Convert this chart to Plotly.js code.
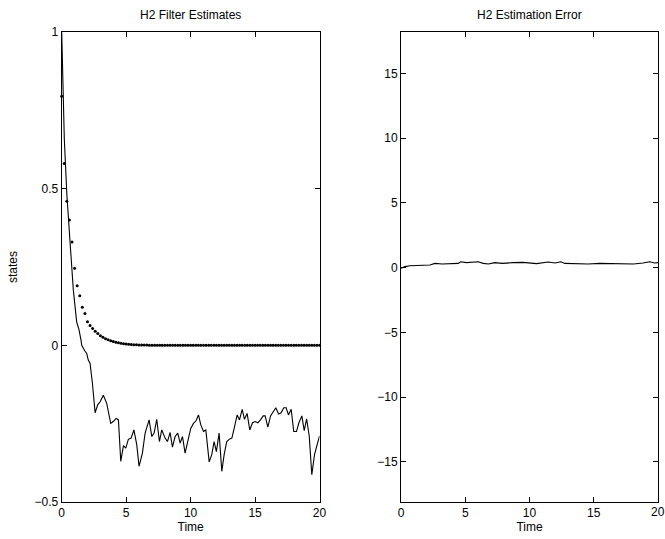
<!DOCTYPE html>
<html>
<head>
<meta charset="utf-8">
<script src="https://cdn.plot.ly/plotly-3.0.1.min.js"></script>
<style>html,body{margin:0;padding:0;background:#fff;}#chart{width:665px;height:539px;}</style>
</head>
<body>
<div id="chart"></div>
<script>
// Dotted series: true state samples (step 0.2)
var dotTime = [0,0.2,0.4,0.6,0.8,1,1.2,1.4,1.6,1.8,2,2.2,2.4,2.6,2.8,3,3.2,3.4,3.6,3.8,4,4.2,4.4,4.6,4.8,5,5.2,5.4,5.6,5.8,6,6.2,6.4,6.6,6.8,7,7.2,7.4,7.6,7.8,8,8.2,8.4,8.6,8.8,9,9.2,9.4,9.6,9.8,10,10.2,10.4,10.6,10.8,11,11.2,11.4,11.6,11.8,12,12.2,12.4,12.6,12.8,13,13.2,13.4,13.6,13.8,14,14.2,14.4,14.6,14.8,15,15.2,15.4,15.6,15.8,16,16.2,16.4,16.6,16.8,17,17.2,17.4,17.6,17.8,18,18.2,18.4,18.6,18.8,19,19.2,19.4,19.6,19.8,20];
var dotState = [0.795,0.58,0.46,0.40,0.33,0.246,0.19,0.158,0.122,0.102,0.075,0.063,0.054,0.045,0.038,0.031,0.026,0.021,0.018,0.015,0.012,0.010,0.008,0.007,0.005,0.004,0.0035,0.003,0.002,0.002,0.0015,0.001,0.001,0.001,0.0005,0,0,0,0,0,0,0,0,0,0,0,0,0,0,0,0,0,0,0,0,0,0,0,0,0,0,0,0,0,0,0,0,0,0,0,0,0,0,0,0,0,0,0,0,0,0,0,0,0,0,0,0,0,0,0,0,0,0,0,0,0,0,0,0,0,0];

// Solid series: H2 filter estimate
var estTime = [0,0.2,0.4,0.52,0.7,0.9,1.16,1.34,1.5,1.55,1.8,1.94,2.06,2.2,2.38,2.59,2.79,2.98,3.23,3.49,3.8,4.0,4.22,4.4,4.58,4.79,4.97,5.17,5.38,5.6,5.82,6.0,6.26,6.47,6.78,6.99,7.17,7.37,7.58,7.76,8.02,8.2,8.41,8.59,8.8,9.0,9.19,9.37,9.57,9.78,10.01,10.22,10.43,10.61,10.79,11.0,11.18,11.44,11.64,11.82,12.0,12.21,12.42,12.6,12.8,12.99,13.2,13.4,13.61,13.79,14.0,14.18,14.38,14.59,14.8,15.0,15.21,15.42,15.63,15.78,15.99,16.2,16.4,16.61,16.82,17.02,17.23,17.41,17.59,17.8,18.0,18.21,18.4,18.63,18.81,19.0,19.2,19.4,19.61,19.82,20.0];
var estState = [1.0,0.66,0.48,0.40,0.28,0.177,0.075,0.05,0.016,0.0,-0.018,-0.026,-0.047,-0.058,-0.12,-0.215,-0.19,-0.18,-0.159,-0.185,-0.249,-0.243,-0.233,-0.238,-0.37,-0.32,-0.328,-0.30,-0.296,-0.27,-0.317,-0.386,-0.344,-0.28,-0.238,-0.291,-0.28,-0.236,-0.307,-0.27,-0.296,-0.307,-0.278,-0.325,-0.291,-0.28,-0.312,-0.291,-0.344,-0.302,-0.265,-0.249,-0.24,-0.222,-0.254,-0.275,-0.27,-0.372,-0.349,-0.307,-0.339,-0.28,-0.402,-0.349,-0.307,-0.30,-0.296,-0.261,-0.222,-0.238,-0.204,-0.236,-0.217,-0.27,-0.247,-0.243,-0.247,-0.238,-0.225,-0.225,-0.261,-0.225,-0.212,-0.199,-0.219,-0.215,-0.199,-0.199,-0.222,-0.204,-0.275,-0.275,-0.247,-0.225,-0.272,-0.235,-0.289,-0.413,-0.349,-0.312,-0.289];

// Right panel: estimation error
var errTime = [0,0.3,0.7,2.25,2.64,3.2,4.46,4.64,5.1,5.5,6.0,6.4,6.8,7.3,7.9,8.7,9.5,10.55,11.45,12.0,12.44,12.75,13.9,14.56,15.47,16.5,17.3,18.1,18.83,19.35,19.74,20];
var errValue = [-0.05,0.08,0.15,0.2,0.33,0.28,0.33,0.46,0.39,0.41,0.46,0.33,0.28,0.39,0.33,0.39,0.41,0.31,0.44,0.36,0.46,0.33,0.31,0.28,0.33,0.31,0.26,0.28,0.36,0.46,0.36,0.39];

var xTicks = [0,5,10,15,20];
var xTicksRightShown = [0,5,10,15];
var yTicksLeft = [-0.5,0,0.5,1];
var yTicksRight = [-15,-10,-5,0,5,10,15];

var FONT = 'Liberation Sans, Arial, Helvetica, sans-serif';

var traces = [
  {x: estTime, y: estState, type: 'scatter', mode: 'lines', line: {color: '#000', width: 1.1}, xaxis: 'x', yaxis: 'y', hoverinfo: 'none'},
  {x: dotTime, y: dotState, type: 'scatter', mode: 'markers', marker: {color: '#000', size: 3}, xaxis: 'x', yaxis: 'y', hoverinfo: 'none', cliponaxis: false},
  {x: errTime, y: errValue, type: 'scatter', mode: 'lines', line: {color: '#000', width: 1.1}, xaxis: 'x2', yaxis: 'y2', hoverinfo: 'none'}
];

function axisBase(extra) {
  var a = {
    showline: true, linecolor: '#000', linewidth: 1, mirror: 'ticks',
    ticks: 'inside', ticklen: 5, tickwidth: 1, tickcolor: '#000',
    showgrid: false, zeroline: false, automargin: false,
    tickfont: {family: FONT, size: 12, color: '#000'}
  };
  for (var k in extra) a[k] = extra[k];
  return a;
}

var layout = {
  width: 665, height: 539,
  margin: {l: 0, r: 0, t: 0, b: 0},
  paper_bgcolor: '#fff', plot_bgcolor: '#fff',
  showlegend: false,
  font: {family: FONT, size: 12, color: '#000'},
  xaxis: axisBase({domain: [0.0928, 0.4805], range: [0, 20], tickvals: xTicks, ticktext: xTicks.map(String),
    title: {text: 'Time', font: {family: FONT, size: 12}, standoff: 2}}),
  yaxis: axisBase({domain: [0.0686, 0.9406], range: [-0.5, 1], tickvals: yTicksLeft, ticktext: ['\u22120.5','0','0.5','1'],
    title: {text: 'states', font: {family: FONT, size: 12}, standoff: 14}}),
  xaxis2: axisBase({domain: [0.603, 0.9895], range: [0, 20], anchor: 'y2', tickvals: xTicks,
    ticktext: xTicks.map(function(v){ return xTicksRightShown.indexOf(v) >= 0 ? String(v) : ''; }),
    title: {text: 'Time', font: {family: FONT, size: 12}, standoff: 2}}),
  yaxis2: axisBase({domain: [0.0686, 0.9406], range: [-18.1, 18.2], anchor: 'x2', tickvals: yTicksRight,
    ticktext: yTicksRight.map(function(v){ return v < 0 ? '\u2212' + Math.abs(v) : String(v); })}),
  annotations: [
    {text: 'H2 Filter Estimates', xref: 'paper', yref: 'paper', x: 0.2866, y: 0.955, xanchor: 'center', yanchor: 'bottom', showarrow: false, font: {family: FONT, size: 12}},
    {text: 'H2 Estimation Error', xref: 'paper', yref: 'paper', x: 0.7962, y: 0.955, xanchor: 'center', yanchor: 'bottom', showarrow: false, font: {family: FONT, size: 12}},
    {text: String(xTicks[xTicks.length - 1]), xref: 'x2', yref: 'paper', x: xTicks[xTicks.length - 1], y: 0.0686, yshift: -1, xanchor: 'center', yanchor: 'top', showarrow: false, font: {family: FONT, size: 12}}
  ]
};

Plotly.newPlot('chart', traces, layout, {staticPlot: true, displayModeBar: false});
</script>
</body>
</html>
